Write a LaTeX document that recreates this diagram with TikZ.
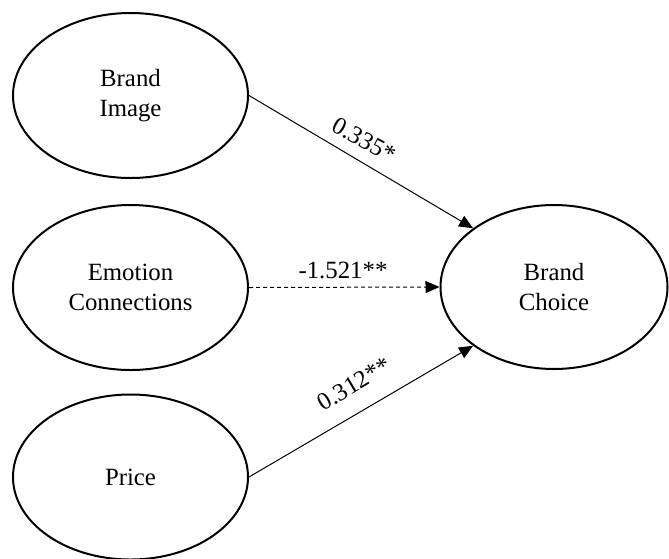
\documentclass[tikz,border=0pt]{standalone}
\usepackage{fontspec}
\setmainfont{Liberation Serif}
\usetikzlibrary{shapes.geometric,arrows.meta}

\begin{document}
\begin{tikzpicture}[x=0.5pt,y=-0.5pt,
    latent/.style={ellipse,draw,line width=1pt,minimum width=117.5pt,
      minimum height=82.5pt,inner sep=0pt,align=center,
      font=\fontsize{12.4}{15}\selectfont},
    effect/.style={line width=0.5pt,-{Triangle[length=7pt,width=6pt]}},
    coef/.style={font=\fontsize{12.4}{15}\selectfont,inner sep=0pt}]
  \useasboundingbox (0,0) rectangle (669,558);
  \node[latent] (bi) at (130.5,95.5) {Brand\\Image};
  \node[latent] (ec) at (130.5,287.5) {Emotion\\Connections};
  \node[latent] (pr) at (130.5,477) {Price};
  \node[latent,minimum width=113.5pt,minimum height=82pt] (bc) at (554,287) {Brand\\Choice};
  \draw[effect] (bi.east) -- (bc.144);
  \draw[effect,dash pattern=on 2pt off 1.5pt] (ec.east) -- (bc.west);
  \draw[effect] (pr.east) -- (bc.216);
  \node[coef,rotate=-29] (c1) at (364,140) {0.335*};
  \node[coef] (c2) at (343,270) {-1.521**};
  \node[coef,rotate=31] (c3) at (354,384) {0.312**};
\end{tikzpicture}
\end{document}
